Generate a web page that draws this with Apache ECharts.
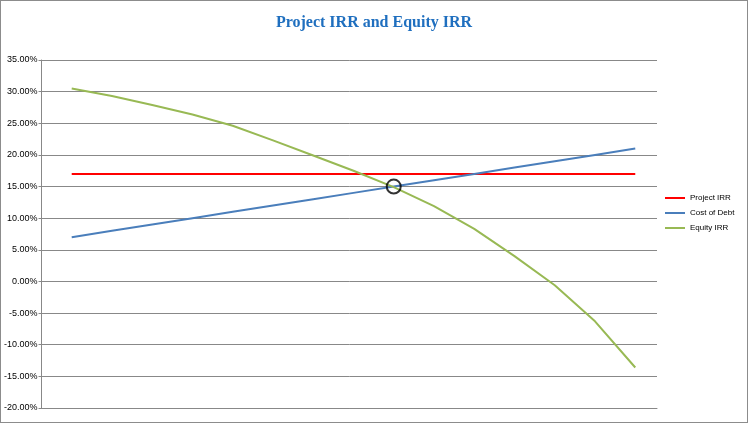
<!DOCTYPE html>
<html><head><meta charset="utf-8">
<script src="https://cdn.jsdelivr.net/npm/echarts@6/dist/echarts.min.js"></script>
<style>html,body{margin:0;padding:0;background:#fff}#c{width:748px;height:423px;box-sizing:border-box;border:1px solid #8c8c8c}</style>
</head><body><div id="c"></div>
<script>
var costOfDebt=[7,8,9,10,11,12,13,14,15,16,17,18,19,20,21];
var projectIRR=[17,17,17,17,17,17,17,17,17,17,17,17,17,17,17];
var equityIRR=[30.5,29.3,27.9,26.4,24.6,22.3,19.9,17.5,14.9,11.9,8.3,4.0,-0.6,-6.3,-13.6];
var crossing=[15,15];
function pairs(v){return costOfDebt.map(function(x,i){return [x,v[i]];});}
var ch=echarts.init(document.getElementById('c'));
ch.setOption({
 animation:false,
 title:{text:'Project IRR and Equity IRR',left:'center',top:9,textStyle:{fontFamily:'Liberation Serif',fontWeight:'bold',fontSize:16,color:'#1f6fbf'}},
 legend:{orient:'vertical',left:659,top:188,itemGap:7,itemWidth:20,itemHeight:2,icon:'rect',textStyle:{fontSize:8,fontFamily:'Liberation Sans',color:'#000'},data:['Project IRR','Cost of Debt','Equity IRR']},
 grid:{left:40,right:90,top:59,bottom:14},
 xAxis:{type:'value',min:6.25,max:21.54,show:true,axisLabel:{show:false},axisTick:{show:false},splitLine:{show:false},axisLine:{show:true,onZero:false,lineStyle:{color:'#888'}}},
 yAxis:{type:'value',min:-20,max:35,interval:5,axisLine:{show:true,lineStyle:{color:'#888'}},axisTick:{show:true,length:3,lineStyle:{color:'#888'}},
  axisLabel:{formatter:function(v){return v.toFixed(2)+'%';},fontSize:9,fontFamily:'Liberation Sans',color:'#000',margin:4},
  splitLine:{lineStyle:{color:'#888',width:1}}},
 series:[
  {name:'Project IRR',type:'line',data:pairs(projectIRR),showSymbol:false,lineStyle:{color:'#ff0000',width:2},itemStyle:{color:'#ff0000'}},
  {name:'Cost of Debt',type:'line',data:pairs(costOfDebt),showSymbol:false,lineStyle:{color:'#4a7ebb',width:2},itemStyle:{color:'#4a7ebb'}},
  {name:'Equity IRR',type:'line',data:pairs(equityIRR),showSymbol:false,lineStyle:{color:'#98b954',width:2},itemStyle:{color:'#98b954'}},
  {name:'cross',type:'scatter',data:[crossing],symbolSize:14,itemStyle:{color:'rgba(0,0,0,0)',borderColor:'#000',borderWidth:2},z:5}
 ]
});
</script></body></html>
